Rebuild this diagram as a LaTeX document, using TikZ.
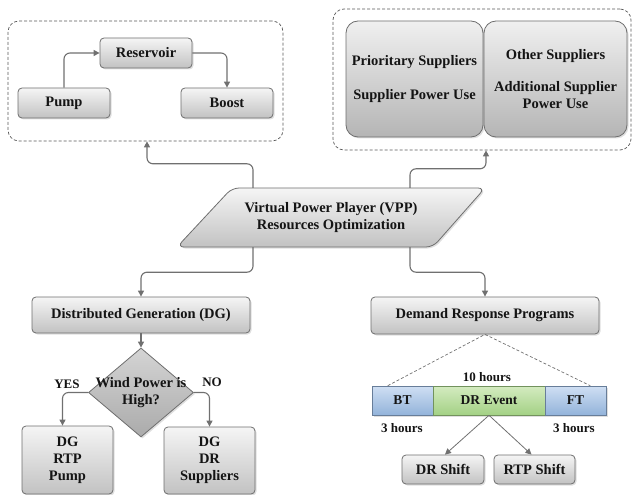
\documentclass[tikz,border=0pt]{standalone}
\usepackage{fontspec}
\setmainfont{Liberation Serif}
\usetikzlibrary{shapes.geometric,arrows.meta,shadows}
\definecolor{edge}{HTML}{6E6E6E}
\definecolor{gtop}{HTML}{F5F5F5}
\definecolor{gbot}{HTML}{C2C2C2}
\definecolor{btop}{HTML}{CFDFF3}
\definecolor{bbot}{HTML}{93B3DA}
\definecolor{ntop}{HTML}{D4EBC0}
\definecolor{nbot}{HTML}{A3D185}
\definecolor{txt}{HTML}{141414}
\definecolor{conncol}{HTML}{707070}
\begin{document}
\begin{tikzpicture}[x=1pt,y=-1pt,
  font=\bfseries\fontsize{14.5}{17}\selectfont, text=txt,
  gbox/.style={draw=edge, line width=0.8pt, rounded corners=4pt, top color=gtop, bottom color=gbot,
    inner sep=0pt, align=center, drop shadow={opacity=0.25, shadow xshift=1.5pt, shadow yshift=-1.5pt}},
  bigbox/.style={gbox, rounded corners=12pt, top color=gtop!90!gbot, bottom color=gbot!93!black},
  grp/.style={draw=edge!80!black, line width=0.7pt, dash pattern=on 3pt off 2pt, rounded corners=11pt, inner sep=0pt},
  conn/.style={draw=conncol, line width=1.1pt, rounded corners=6pt, -{Triangle[length=6pt,width=6pt]}},
  bar/.style={draw=#1!70!black, line width=0.6pt, inner sep=0pt, minimum height=29, font=\bfseries\fontsize{13.5}{16}\selectfont, drop shadow={opacity=0.25, shadow xshift=1.5pt, shadow yshift=-1.5pt}},
  lbl/.style={inner sep=0pt, font=\bfseries\fontsize{13}{16}\selectfont}
]
\useasboundingbox (0,0) rectangle (633,495);

% ---- top left group
\node[grp, minimum width=275, minimum height=120] (lgrp) at (145.5,81) {};
\node[gbox, minimum width=92, minimum height=30] (res) at (146,53) {Reservoir};
\node[gbox, minimum width=92, minimum height=30] (pump) at (64,103) {Pump};
\node[gbox, minimum width=92, minimum height=30] (boost) at (227,103) {Boost};
\draw[conn] (pump.north) |- (res.west);
\draw[conn] (res.east) -| (boost.north);

% ---- top right group
\node[grp, minimum width=298, minimum height=141] (rgrp) at (482,79.5) {};
\node[bigbox, minimum width=137, minimum height=116] (prio) at (414.5,79)
  {Prioritary Suppliers\\[17pt]Supplier Power Use};
\node[bigbox, minimum width=143, minimum height=116] (other) at (555.5,79)
  {Other Suppliers\\[15pt]Additional Supplier\\Power Use};

% ---- VPP parallelogram
\shadedraw[top color=gtop, bottom color=gbot, draw=edge, line width=0.8pt, rounded corners=7pt,
  drop shadow={opacity=0.25, shadow xshift=1.5pt, shadow yshift=-1.5pt}]
  (358,188) -- (485,188) -- (433,247) -- (177,247) -- (232,188) -- cycle;
\node[inner sep=0pt, minimum width=308, minimum height=59, align=center] (vpp) at (331,217.5)
  {Virtual Power Player (VPP)\\Resources Optimization};

\draw[conn] ([xshift=-78pt]vpp.north) -- ++(0,-24) -| ([xshift=1.5pt]lgrp.south);
\draw[conn] ([xshift=79pt]vpp.north) -- ++(0,-19) -| ([xshift=4pt]rgrp.south);

% ---- Distributed generation
\node[gbox, minimum width=218, minimum height=36] (dg) at (141,315) {Distributed Generation (DG)};
\draw[conn] ([xshift=-78pt]vpp.south) -- ++(0,25) -| (dg.north);

\node[diamond, draw=edge, line width=0.8pt, top color=gbot!70!white, bottom color=gbot!88!black,
  minimum width=105, minimum height=89, inner sep=0pt,
  drop shadow={opacity=0.25, shadow xshift=1.5pt, shadow yshift=-1.5pt}] (dia) at (141,392.5) {};
\node[align=center, inner sep=0pt] (diatext) at (141,393) {Wind Power is\\High?};
\draw[conn] (dg.south) -- (dia.north);

\node[gbox, minimum width=91, minimum height=68] (b1) at (67.5,460) {DG\\RTP\\Pump};
\node[gbox, minimum width=91, minimum height=67] (b2) at (209.5,460.5) {DG\\DR\\Suppliers};
\draw[conn] (dia.west) -| ([xshift=-5pt]b1.north);
\draw[conn] (dia.east) -| (b2.north);
\node[lbl] (yes) at (67,384) {YES};
\node[lbl] (no) at (212,382) {NO};

% ---- Demand response
\node[gbox, minimum width=228, minimum height=37] (drp) at (485,315.5) {Demand Response Programs};
\draw[conn] ([xshift=79pt]vpp.south) -- ++(0,25) -| (drp.north);

\node[bar=bbot, top color=btop, bottom color=bbot, minimum width=61] (bt) at (402.5,400.5) {BT};
\node[bar=nbot, top color=ntop, bottom color=nbot, minimum width=112] (dre) at (489,400.5) {DR Event};
\node[bar=bbot, top color=btop, bottom color=bbot, minimum width=61] (ft) at (575.5,400.5) {FT};

\draw[conncol, line width=0.7pt, dash pattern=on 3pt off 2pt] ([xshift=16pt]bt.north west) -- (drp.south) -- ([xshift=-16pt]ft.north east);

\node[lbl] (ten) at (487,377) {10 hours};
\node[lbl] (thl) at (402,428) {3 hours};
\node[lbl] (thr) at (574,428) {3 hours};

\node[gbox, minimum width=82, minimum height=29] (drs) at (443,469.5) {DR Shift};
\node[gbox, minimum width=81, minimum height=29] (rtps) at (534.5,469.5) {RTP Shift};
\draw[conn, line width=0.8pt] (dre.south) -- ([xshift=2pt]drs.north);
\draw[conn, line width=0.8pt] (dre.south) -- ([xshift=-3pt]rtps.north);
\end{tikzpicture}
\end{document}
